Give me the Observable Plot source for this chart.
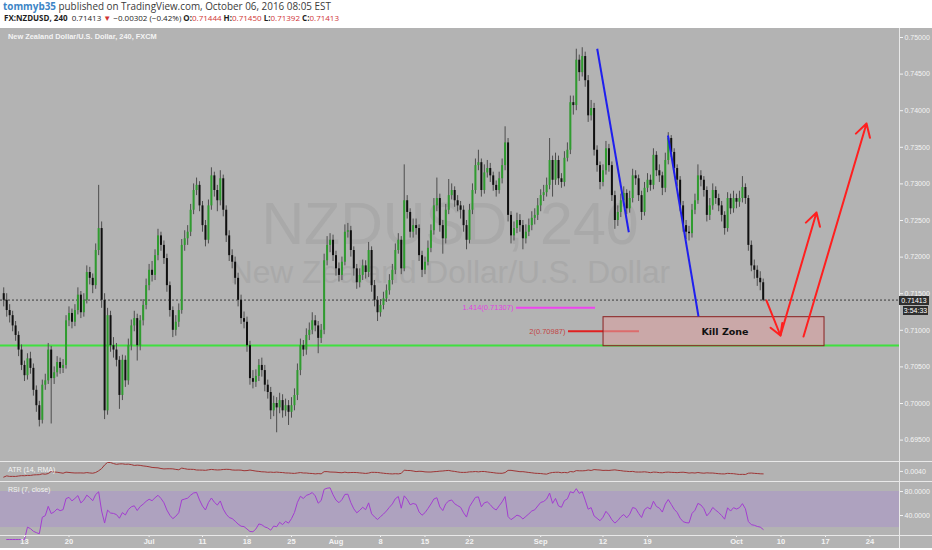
<!DOCTYPE html>
<html><head><meta charset="utf-8">
<script src="https://cdn.jsdelivr.net/npm/d3@7"></script>
<script src="https://cdn.jsdelivr.net/npm/@observablehq/plot@0.6"></script>
<style>
html,body{margin:0;padding:0;}
body{width:932px;height:550px;overflow:hidden;position:relative;background:#fff;font-family:"Open Sans",sans-serif;}
.abs{position:absolute;}
#h1{left:3px;top:0px;font-size:9.9px;color:#3a3a3a;white-space:nowrap;line-height:13px}
#h1 b{color:#3d85c6;font-weight:700}
#h2{left:4px;top:12px;font-size:8px;color:#1e1e1e;white-space:nowrap;line-height:12px}
#h2 .r{color:#d03434}
#bg{left:0;top:28px;width:932px;height:520px;background:#b3b3b3}
.panel{left:0;width:932px}
.sep{left:0;width:932px;height:1px;background:#e9e9e9}
.vsep{left:899px;top:28px;width:1px;height:520px;background:#e9e9e9}
.lbl{font-family:"Liberation Sans",sans-serif;color:#f3f3f3;white-space:nowrap}
.box{background:#2f2f2f;color:#fff;font-family:"Liberation Sans",sans-serif;font-size:7px;line-height:9px;text-align:center}
</style>
</head><body>
<div id="h1" class="abs"><b>tommyb35</b> published on TradingView.com, October 06, 2016 08:05 EST</div>
<div id="h2" class="abs"><b>FX:NZDUSD, 240</b>&nbsp; 0.71413 <span class="r">▼</span> −0.00302 (−0.42%) <b>O:</b><span class="r">0.71444</span> <b>H:</b><span class="r">0.71450</span> <b>L:</b><span class="r">0.71392</span> <b>C:</b><span class="r">0.71413</span></div>
<div id="bg" class="abs"></div>
<div id="main" class="abs panel" style="top:28px;height:433px"></div>
<div id="atr" class="abs panel" style="top:461px;height:20px"></div>
<div id="rsi" class="abs panel" style="top:481px;height:67px"></div>
<div class="abs sep" style="top:461px"></div>
<div class="abs sep" style="top:481px"></div>
<div class="abs sep" style="top:535px"></div>
<div class="abs vsep"></div>
<div class="abs lbl" style="left:8px;top:32px;font-size:7.4px;font-weight:bold">New Zealand Dollar/U.S. Dollar, 240, FXCM</div>
<div class="abs lbl" style="left:8px;top:466px;font-size:7px">ATR (14, RMA)</div>
<div class="abs lbl" style="left:8px;top:486px;font-size:7px">RSI (7, close)</div>
<div class="abs box" style="left:899px;top:296px;width:30px;height:9px">0.71413</div>
<div class="abs box" style="left:903px;top:306px;width:25px;height:9px">3:54:33</div>
<script>
// ---- price data: 8-hour bars, pips (x 1e-4) ----
const firstBar = -7;          // bar index of first bar (3 bars per trading day, day 0 = Jun 13)
const barsPerDay = 3;
const firstOpenPips = 7150;
const closePips = [
7141,7127,7120,7106,7093,7073,7052,7038,7061,7048,
7018,6997,6977,7025,7031,7073,7034,7042,7056,7048,
7052,7113,7123,7111,7127,7148,7124,7141,7179,7171,
7161,7209,7239,7141,6990,7120,7079,7073,7059,7011,
7059,7031,7079,7106,7116,7079,7113,7134,7161,7182,
7175,7202,7229,7216,7198,7161,7127,7100,7111,7127,
7216,7225,7234,7264,7291,7298,7270,7243,7223,7270,
7311,7291,7277,7307,7264,7229,7202,7193,7171,7141,
7116,7111,7079,7034,7029,7037,7052,7045,7025,7015,
6990,7000,6994,7004,6990,6997,6988,6997,7011,7045,
7079,7073,7093,7100,7113,7106,7089,7100,7195,7216,
7223,7202,7184,7175,7193,7234,7236,7209,7184,7165,
7175,7188,7179,7209,7161,7141,7124,7134,7143,7154,
7168,7182,7209,7223,7184,7277,7261,7234,7243,7239,
7202,7182,7193,7212,7236,7270,7280,7243,7225,7264,
7284,7291,7277,7270,7264,7243,7223,7264,7291,7325,
7329,7291,7315,7321,7311,7298,7291,7307,7325,7356,
7257,7229,7239,7250,7243,7225,7234,7243,7253,7257,
7270,7284,7288,7298,7332,7305,7332,7307,7302,7335,
7346,7411,7407,7469,7452,7474,7441,7393,7403,7346,
7325,7302,7318,7348,7325,7284,7250,7261,7277,7287,
7266,7280,7311,7307,7284,7261,7294,7305,7298,7339,
7318,7311,7294,7332,7362,7343,7321,7305,7270,7243,
7234,7232,7264,7277,7311,7305,7291,7257,7270,7291,
7280,7270,7257,7239,7280,7266,7280,7275,7280,7295,
7280,7216,7188,7182,7171,7165,7141];
const highPips = [
7158,7150,7135,7126,7112,7098,7080,7058,7068,7070,
7054,7024,7003,7032,7040,7082,7078,7050,7064,7062,
7060,7120,7132,7129,7135,7158,7153,7150,7188,7186,
7177,7218,7298,7248,7150,7130,7126,7090,7082,7064,
7066,7065,7088,7114,7126,7122,7120,7142,7170,7190,
7194,7210,7238,7234,7222,7204,7166,7132,7120,7136,
7224,7236,7243,7272,7300,7308,7303,7276,7250,7278,
7322,7316,7298,7318,7312,7270,7236,7210,7200,7178,
7148,7125,7118,7085,7045,7046,7060,7062,7052,7032,
7022,7010,7008,7014,7012,7006,7004,7008,7020,7054,
7088,7086,7102,7110,7124,7120,7112,7108,7204,7228,
7232,7230,7208,7192,7200,7244,7246,7242,7214,7190,
7184,7196,7195,7220,7214,7168,7146,7142,7152,7162,
7176,7190,7218,7232,7228,7326,7284,7266,7252,7252,
7244,7208,7200,7222,7244,7280,7308,7286,7250,7272,
7306,7300,7296,7284,7276,7270,7250,7272,7300,7334,
7346,7334,7326,7332,7328,7316,7304,7316,7334,7378,
7362,7262,7248,7260,7258,7250,7244,7252,7262,7266,
7280,7292,7298,7308,7362,7338,7342,7338,7314,7344,
7356,7420,7420,7484,7476,7486,7480,7448,7414,7410,
7352,7330,7326,7358,7354,7330,7290,7270,7286,7296,
7292,7290,7320,7318,7312,7290,7302,7314,7312,7348,
7344,7326,7316,7342,7370,7366,7348,7326,7310,7276,
7250,7242,7272,7286,7326,7318,7310,7296,7280,7300,
7296,7286,7276,7262,7288,7286,7290,7286,7290,7310,
7300,7284,7222,7196,7188,7180,7170];
const lowPips = [
7132,7118,7110,7098,7085,7064,7045,7030,7032,7040,
7010,6988,6968,6972,7018,7026,6972,7026,7036,7040,
7041,7047,7105,7102,7105,7121,7116,7118,7136,7162,
7150,7156,7202,7130,6978,6984,7070,7062,7050,6992,
7004,7022,7025,7072,7098,7058,7072,7106,7128,7154,
7166,7168,7195,7208,7190,7152,7118,7090,7092,7104,
7122,7208,7216,7228,7258,7284,7262,7234,7214,7218,
7264,7282,7262,7270,7255,7220,7194,7184,7162,7132,
7108,7102,7070,7025,7020,7022,7030,7036,7016,7006,
6978,6982,6960,6986,6980,6982,6970,6980,6990,7004,
7038,7064,7066,7086,7094,7098,7068,7082,7094,7188,
7206,7194,7174,7166,7168,7188,7226,7200,7174,7156,
7158,7168,7170,7172,7152,7132,7112,7118,7128,7138,
7148,7162,7176,7204,7176,7180,7252,7226,7226,7230,
7194,7172,7176,7188,7206,7230,7262,7234,7204,7218,
7258,7278,7268,7262,7252,7234,7210,7218,7258,7286,
7318,7282,7286,7308,7302,7290,7282,7286,7300,7318,
7248,7218,7222,7232,7234,7210,7218,7228,7236,7244,
7250,7262,7276,7282,7292,7282,7298,7298,7294,7296,
7330,7340,7394,7400,7440,7446,7432,7384,7386,7338,
7316,7292,7296,7312,7316,7276,7238,7242,7254,7270,
7258,7260,7274,7298,7276,7250,7256,7288,7290,7292,
7310,7302,7284,7288,7326,7336,7314,7296,7262,7234,
7224,7222,7226,7258,7272,7296,7282,7248,7250,7264,
7272,7262,7248,7230,7234,7258,7260,7266,7268,7274,
7272,7208,7180,7170,7160,7154,7139];

// ---- axis ticks ----
const priceTicks = [0.695,0.700,0.705,0.710,0.715,0.720,0.725,0.730,0.735,0.740,0.745,0.750];
const tickDays   = [0,5,14,20,25,30,35,40,45,50,58,65,70,80,85,90,95];
const tickLabels = ["13","20","Jul","11","18","25","Aug","8","15","22","Sep","12","19","Oct","10","17","24"];
const rsiTicks = [40,80];
const rsiBand = [{lo:20, hi:80}];

// ---- drawings (day index, price) ----
const supportLevel = [0.70792];
const lastPrice = [0.71413];
const fibLevels = [
  {label:"1.414(0.71307)", price:0.71307, labelEnd:54.94, x1:55.28, x2:64.16},
  {label:"2(0.70987)",     price:0.70987, labelEnd:60.79, x1:61.12, x2:69.10}];
const killZone = [{x1:65.06, x2:89.89, y1:0.70783, y2:0.71179, label:"Kill Zone"}];
const trendLines = [
  {x1:64.35, y1:0.74846, x2:67.90, y2:0.72340},
  {x1:72.30, y1:0.73661, x2:75.73, y2:0.71189}];
const projections = [
  {x1:83.37, y1:0.71407, x2:84.94, y2:0.70929},
  {x1:84.94, y1:0.70929, x2:88.99, y2:0.72609},
  {x1:87.53, y1:0.70915, x2:94.61, y2:0.73825}];

// ---- build table ----
const bars = closePips.map((c, i) => ({
  day: (firstBar + i) / barsPerDay,
  o: (i === 0 ? firstOpenPips : closePips[i - 1]) / 1e4,
  c: c / 1e4, h: highPips[i] / 1e4, l: lowPips[i] / 1e4
}));
// ATR(14, RMA)
const atr = [];
bars.forEach((b, i) => {
  const tr = i === 0 ? b.h - b.l : Math.max(b.h - b.l, Math.abs(b.h - bars[i-1].c), Math.abs(b.l - bars[i-1].c));
  if (i === 0) atr.push(tr); else { const n = Math.min(i + 1, 14); atr.push(atr[i-1] + (tr - atr[i-1]) / n); }
});
const atrSeries = bars.map((b, i) => ({day: b.day, v: atr[i]}));
// RSI(7, close)
const rsiSeries = [];
let ag = 0, al = 0;
for (let i = 1; i < bars.length; i++) {
  const ch = bars[i].c - bars[i-1].c;
  const n = Math.min(i, 7);
  ag += (Math.max(ch, 0) - ag) / n;
  al += (Math.max(-ch, 0) - al) / n;
  rsiSeries.push({day: bars[i].day, v: al === 0 ? 100 : 100 - 100 / (1 + ag / al)});
}

const xDomain = [-2.6966, 98.315];
const baseStyle = {background:"transparent", color:"#f3f3f3", fontFamily:"Liberation Sans", fontSize:"7px", overflow:"visible"};
const labelOf = new Map(tickDays.map((d, i) => [d, tickLabels[i]]));

const main = Plot.plot({
  width: 932, height: 433, marginLeft: 0, marginRight: 33, marginTop: 0, marginBottom: 0,
  x: {domain: xDomain, axis: null, label: null},
  y: {domain: [0.692077, 0.75123], axis: null, label: null},
  style: baseStyle,
  marks: [
    Plot.text(["NZDUSD, 240"], {text: d => d, frameAnchor: "middle", dy: -20, fontSize: 59, fill: "#a9a9a9", fontFamily: "Liberation Sans"}),
    Plot.text(["New Zealand Dollar/U.S. Dollar"], {text: d => d, frameAnchor: "middle", dy: 28, fontSize: 31.7, fill: "#a9a9a9", fontFamily: "Liberation Sans"}),
    Plot.ruleY(supportLevel, {stroke: "#3fe03f", strokeWidth: 2}),
    Plot.ruleY(lastPrice, {stroke: "#3a3a3a", strokeDasharray: "2,2"}),
    Plot.ruleX(bars, {x: "day", y1: "l", y2: "h", stroke: "#4d4d4d"}),
    Plot.ruleX(bars.filter(b => b.c >= b.o), {x: "day", y1: "o", y2: "c", stroke: "#2f9c2f", strokeWidth: 2}),
    Plot.ruleX(bars.filter(b => b.c < b.o), {x: "day", y1: "o", y2: "c", stroke: "#101010", strokeWidth: 2}),
    Plot.ruleY(fibLevels.slice(0,1), {y: "price", x1: "x1", x2: "x2", stroke: "#ee44ee", strokeWidth: 2}),
    Plot.ruleY(fibLevels.slice(1), {y: "price", x1: "x1", x2: "x2", stroke: "#e02020", strokeWidth: 2}),
    Plot.text(fibLevels.slice(0,1), {x: "labelEnd", y: "price", text: "label", textAnchor: "end", fill: "#e23fe2", fontSize: 7.5}),
    Plot.text(fibLevels.slice(1), {x: "labelEnd", y: "price", text: "label", textAnchor: "end", fill: "#c24646", fontSize: 7.5}),
    Plot.rect(killZone, {x1: "x1", x2: "x2", y1: "y1", y2: "y2", fill: "#d9a0a0", fillOpacity: 0.6, stroke: "#8a2020", strokeWidth: 1}),
    Plot.text(killZone, {x: d => (d.x1 + d.x2) / 2, y: d => (d.y1 + d.y2) / 2, text: "label", dx: 11, fill: "#111", fontSize: 9.5, fontWeight: "bold", fontFamily: "DejaVu Sans"}),
    Plot.link(trendLines, {x1: "x1", y1: "y1", x2: "x2", y2: "y2", stroke: "#1f1fee", strokeWidth: 2}),
    Plot.arrow(projections, {x1: "x1", y1: "y1", x2: "x2", y2: "y2", stroke: "#ff1f1f", strokeWidth: 2, headLength: 11}),
    Plot.axisY(priceTicks, {anchor: "right", label: null, tickSize: 3, tickPadding: 2, tickFormat: d3.format(".5f")})
  ]
});
document.getElementById("main").appendChild(main);

const [amin, amax] = d3.extent(atr);
const aDom = [amin - 0.3 * (amax - amin), amax + 0.06 * (amax - amin)];
const atrTicks = d3.ticks(aDom[0], aDom[1], 2).filter(t => t > aDom[0] + 0.15 * (aDom[1] - aDom[0]) && t < aDom[1] - 0.1 * (aDom[1] - aDom[0])).slice(-1);
const atrPlot = Plot.plot({
  width: 932, height: 20, marginLeft: 0, marginRight: 33, marginTop: 0, marginBottom: 0,
  x: {domain: xDomain, axis: null, label: null},
  y: {domain: aDom, axis: null, label: null},
  style: baseStyle,
  marks: [
    Plot.line(atrSeries, {x: "day", y: "v", stroke: "#9e3535", strokeWidth: 1}),
    Plot.axisY(atrTicks, {anchor: "right", label: null, tickSize: 3, tickPadding: 2, tickFormat: d3.format(".4f")})
  ]
});
document.getElementById("atr").appendChild(atrPlot);

const rsiPlot = Plot.plot({
  width: 932, height: 67, marginLeft: 0, marginRight: 33, marginTop: 0, marginBottom: 13,
  x: {domain: xDomain, axis: null, label: null},
  y: {domain: [6.7, 96.7], axis: null, label: null},
  style: baseStyle,
  marks: [
    Plot.rect(rsiBand, {y1: "lo", y2: "hi", fill: "#aea2bf"}),
    Plot.line(rsiSeries, {x: "day", y: "v", stroke: "#a33ed0", strokeWidth: 1}),
    Plot.axisY(rsiTicks, {anchor: "right", label: null, tickSize: 3, tickPadding: 2, tickFormat: d3.format(".4f")}),
    Plot.axisX(tickDays, {anchor: "bottom", label: null, tickSize: 2, tickPadding: 1, tickFormat: d => labelOf.get(d), fontWeight: "bold", fontSize: 7.5})
  ]
});
document.getElementById("rsi").appendChild(rsiPlot);
</script>
</body></html>
